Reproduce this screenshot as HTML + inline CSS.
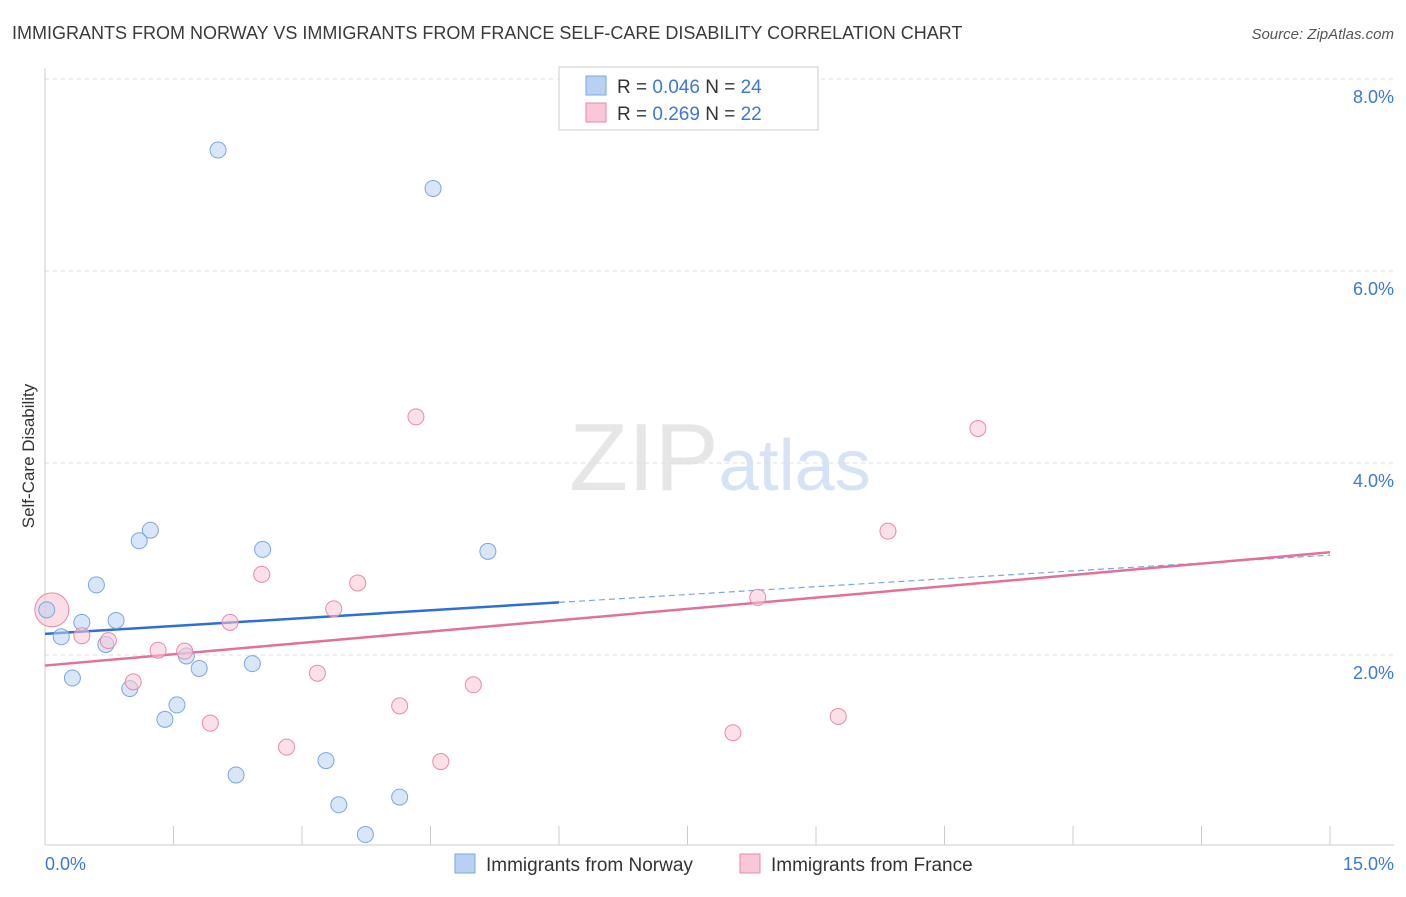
<!DOCTYPE html>
<html><head><meta charset="utf-8"><style>
body{margin:0;background:#fff;font-family:"Liberation Sans",sans-serif;}
svg text{font-family:"Liberation Sans",sans-serif;}
</style></head><body>
<svg id="chart" width="1406" height="892" xmlns="http://www.w3.org/2000/svg">
<text x="12" y="39" font-size="18" fill="#3a3a3a">IMMIGRANTS FROM NORWAY VS IMMIGRANTS FROM FRANCE SELF-CARE DISABILITY CORRELATION CHART</text>
<text x="1394" y="39" font-size="15" fill="#555" text-anchor="end" font-style="italic">Source: ZipAtlas.com</text>
<text x="720" y="490" font-size="96" fill="#e6e6e6" text-anchor="middle" font-family="Liberation Serif">ZIP<tspan fill="#d6e3f5" font-family="Liberation Sans" font-size="72">atlas</tspan></text>
<text transform="translate(34,456) rotate(-90)" font-size="17" fill="#333" text-anchor="middle">Self-Care Disability</text>
<g id="grid"></g><g id="lines"></g><g id="pts"></g>
<g>
<rect x="559" y="67" width="259" height="63" fill="#fff" stroke="#ccc"/>
<rect x="586" y="76" width="20" height="19" fill="#b8d1f3" stroke="#7aa7e0"/>
<rect x="586" y="103" width="20" height="19" fill="#f9c7d6" stroke="#e88aa8"/>
<text x="617" y="93" font-size="19" fill="#333">R = <tspan fill="#3b78d8">0.046</tspan>    N = <tspan fill="#3b78d8">24</tspan></text>
<text x="617" y="120" font-size="19" fill="#333">R =  <tspan fill="#3b78d8">0.269</tspan>    N = <tspan fill="#3b78d8">22</tspan></text>
</g>
<g>
<rect x="455" y="854" width="20" height="19" fill="#b8d1f3" stroke="#7aa7e0"/>
<text x="486" y="871" font-size="19" fill="#333">Immigrants from Norway</text>
<rect x="740" y="854" width="20" height="19" fill="#f9c7d6" stroke="#e88aa8"/>
<text x="771" y="871" font-size="19" fill="#333">Immigrants from France</text>
</g>
<text x="45" y="870" font-size="18" fill="#3b78d8">0.0%</text>
<text x="1394" y="870" font-size="18" fill="#3b78d8" text-anchor="end">15.0%</text>
</svg>
<script>
const norwayX=[2.02,4.53,1.23,1.10,2.54,5.17,0.60,0.43,0.83,0.19,0.71,1.65,1.80,2.42,0.32,0.99,1.54,1.40,2.23,3.28,3.43,4.14,3.74,0.02];
const norwayY=[7.26,6.86,3.30,3.19,3.10,3.08,2.73,2.34,2.36,2.19,2.11,1.99,1.86,1.91,1.76,1.65,1.48,1.33,0.75,0.90,0.44,0.52,0.13,2.47];
const franceX=[0.08,4.33,10.89,9.84,2.53,3.65,8.32,3.37,2.16,0.43,0.74,1.32,1.63,3.18,1.03,5.00,4.14,9.26,1.93,8.03,2.82,4.62];
const franceY=[2.47,4.48,4.36,3.29,2.84,2.75,2.60,2.48,2.34,2.20,2.15,2.05,2.04,1.81,1.72,1.69,1.47,1.36,1.29,1.19,1.04,0.89];
const yTicks=[2,4,6,8];
const yTickLabels=["2.0%","4.0%","6.0%","8.0%"];
const xTicks=[0,1.5,3,4.5,6,7.5,9,10.5,12,13.5,15];
const norwayTrend=[2.22,3.04];
const franceTrend=[1.89,3.07];
const norwaySolidEnd=6;
const NS="http://www.w3.org/2000/svg";
const sx=v=>45+v/15*1285, sy=v=>847-v*96;
function mk(tag,attrs,parent){const e=document.createElementNS(NS,tag);for(const k in attrs)e.setAttribute(k,attrs[k]);parent.appendChild(e);return e;}
const grid=document.getElementById('grid'),lines=document.getElementById('lines'),pts=document.getElementById('pts');
yTicks.forEach((t,i)=>{
 const l=mk('line',{x1:45,x2:1394,y1:sy(t),y2:sy(t),stroke:'#ddd','stroke-dasharray':'4,4'},grid);
 
 
 const tx=mk('text',{x:1394,y:sy(t)+24,'font-size':18,fill:'#3b78d8','text-anchor':'end'},grid);
 tx.textContent=yTickLabels[i];
 
 
});
const ax=mk('line',{x1:45,x2:1394,y1:845,y2:845,stroke:'#ccc'},grid);


const ay=mk('line',{x1:45,x2:45,y1:68,y2:845,stroke:'#ccc'},grid);


xTicks.forEach(t=>{
 const l=mk('line',{x1:sx(t),x2:sx(t),y1:826,y2:845,stroke:'#ccc'},grid);
 
 
});
function draw(X,Y,fill,stroke,name){
 X.forEach((x,i)=>{
  const c=mk('circle',{cx:sx(x),cy:sy(Y[i]),r:8,fill:fill,'fill-opacity':0.55,stroke:stroke,'stroke-width':1},pts);
  
  
 });
}
// big point
const big=mk('circle',{cx:sx(franceX[0]),cy:sy(franceY[0]),r:17,fill:'#f9c7d6','fill-opacity':0.6,stroke:'#e88aa8'},pts);


draw(norwayX,norwayY,'#b8d1f3','#7aa7e0','norway-point');
draw(franceX.slice(1),franceY.slice(1),'#f9c7d6','#e88aa8','france-point');
const nf=x=>norwayTrend[0]+(norwayTrend[1]-norwayTrend[0])*x/15;
const l1=mk('line',{x1:sx(0),y1:sy(nf(0)),x2:sx(norwaySolidEnd),y2:sy(nf(norwaySolidEnd)),stroke:'#2d6fd6','stroke-width':2.5},lines);


const l2=mk('line',{x1:sx(norwaySolidEnd),y1:sy(nf(norwaySolidEnd)),x2:sx(15),y2:sy(nf(15)),stroke:'#7aa7e0','stroke-width':1.2,'stroke-dasharray':'6,4'},lines);


const l3=mk('line',{x1:sx(0),y1:sy(franceTrend[0]),x2:sx(15),y2:sy(franceTrend[1]),stroke:'#e4709a','stroke-width':2.5},lines);


</script>
</body></html>
